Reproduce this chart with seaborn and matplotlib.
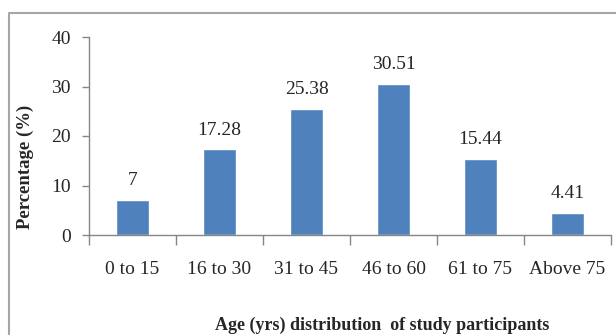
import matplotlib
matplotlib.use("Agg")
import matplotlib.pyplot as plt
import seaborn as sns
import numpy as np
from matplotlib.lines import Line2D

# data
age_groups = ["0 to 15", "16 to 30", "31 to 45", "46 to 60", "61 to 75", "Above 75"]
percentages = [7, 17.28, 25.38, 30.51, 15.44, 4.41]
bar_labels = ["7", "17.28", "25.38", "30.51", "15.44", "4.41"]
y_ticks = [0, 10, 20, 30, 40]

sns.set_style("white")
plt.rcParams['font.family'] = ['Liberation Serif', 'DejaVu Serif']

fig = plt.figure(figsize=(6.16, 3.35), dpi=100)
ax = fig.add_axes([89/616, 1 - 235/335, (611 - 89)/616, (235 - 37)/335])

sns.barplot(x=age_groups, y=percentages, color="#4F81BD", width=0.39,
            saturation=1, ax=ax)

# value labels above bars
for i, (v, lab) in enumerate(zip(percentages, bar_labels)):
    ax.text(i, v + 2.2, lab, ha="center", va="bottom", fontsize=14)

ax.set_ylim(0, 40)
ax.set_xlim(-0.5, 5.5)
ax.set_yticks(y_ticks)
ax.set_yticklabels([str(t) for t in y_ticks], fontsize=14)

# excel style ticks between categories
ax.set_xticks(np.arange(-0.5, 6, 1), minor=True)
ax.tick_params(axis="x", which="major", length=0, pad=19, labelsize=14)
ax.tick_params(axis="x", which="minor", length=7, color="#868686", width=1, direction="out")
ax.tick_params(axis="y", length=5, color="#868686", width=1, direction="out", pad=8)
ax.xaxis.set_ticks_position("bottom")
ax.yaxis.set_ticks_position("left")

for s in ["top", "right"]:
    ax.spines[s].set_visible(False)
for s in ["left", "bottom"]:
    ax.spines[s].set_color("#868686")
    ax.spines[s].set_linewidth(1)

ax.set_ylabel("")
fig.text(25/616, 1 - 167/335, "Percentage (%)", rotation=90, ha="center", va="center",
         fontsize=13.5, fontweight="bold")
fig.text(382/616, 1 - 325/335, "Age (yrs) distribution  of study participants",
         ha="center", va="center", fontsize=13, fontweight="bold")

# chart area border (cut off at right and bottom)
x0 = 9/616
y0 = 1 - 13/335
fig.add_artist(Line2D([x0, x0, 1.05], [-0.05, y0, y0], transform=fig.transFigure,
                      color="#A6A6A6", linewidth=1.5))

fig.savefig("out.png", dpi=100)
